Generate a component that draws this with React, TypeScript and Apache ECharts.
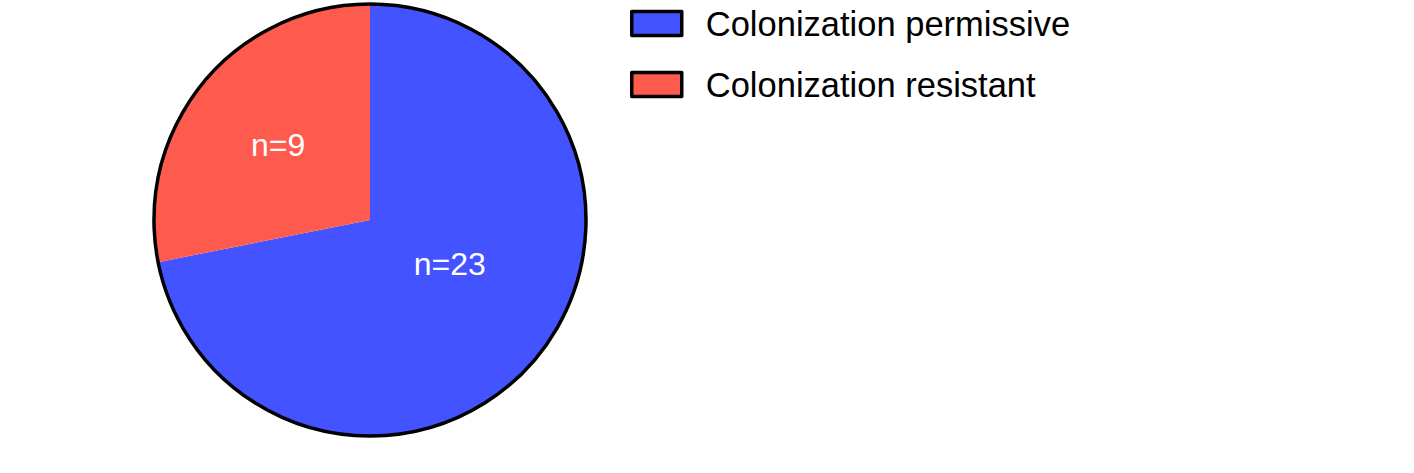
import React, { useEffect, useRef } from "react";
import * as echarts from "echarts";

const categories = ["Colonization permissive", "Colonization resistant"];
const counts = [23, 9];
const sliceLabels = ["n=23", "n=9"];
const colors = ["#4353FF", "#FF5A4E"];

export default function App() {
  const ref = useRef<HTMLDivElement>(null);
  useEffect(() => {
    if (!ref.current) return;
    const chart = echarts.init(ref.current, undefined, { renderer: "svg" });
    const font = "'Liberation Sans', Arial, Helvetica, sans-serif";
    const labelOffsets = [
      [-6, -26],
      [-6, -5],
    ];
    chart.setOption({
      animation: false,
      backgroundColor: "#ffffff",
      legend: {
        orient: "vertical",
        left: 625,
        top: 1,
        icon: "rect",
        itemWidth: 50,
        itemHeight: 24,
        itemGap: 26,
        data: categories,
        itemStyle: { borderColor: "#000", borderWidth: 3.5 },
        textStyle: {
          fontSize: 34.5,
          fontFamily: font,
          color: "#000",
          padding: [0, 0, 0, 19],
        },
        selectedMode: false,
      },
      series: [
        {
          type: "pie",
          center: [370, 220],
          radius: 216,
          startAngle: 90,
          clockwise: true,
          silent: true,
          avoidLabelOverlap: false,
          labelLine: { show: false },
          itemStyle: { borderWidth: 0 },
          data: categories.map((name, i) => ({
            name,
            value: counts[i],
            itemStyle: { color: colors[i] },
            label: {
              show: true,
              position: "inside",
              formatter: sliceLabels[i],
              color: "#fff",
              fontSize: 32,
              fontFamily: font,
              offset: labelOffsets[i],
            },
          })),
        },
        {
          type: "pie",
          center: [370, 220],
          radius: 216,
          silent: true,
          label: { show: false },
          labelLine: { show: false },
          data: [
            {
              name: "outline",
              value: 1,
              itemStyle: {
                color: "rgba(0,0,0,0)",
                borderColor: "#000",
                borderWidth: 3.5,
              },
            },
          ],
        },
      ],
    });
    return () => chart.dispose();
  }, []);
  return (
    <div
      ref={ref}
      style={{ position: "fixed", left: 0, top: 0, width: 1414, height: 473 }}
    />
  );
}
